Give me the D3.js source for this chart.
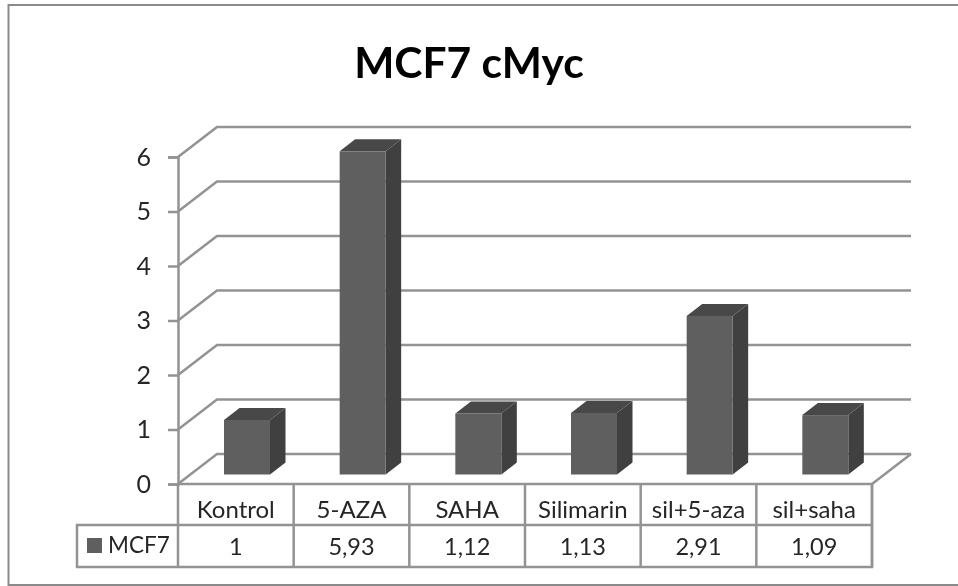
<!DOCTYPE html>
<html>
<head>
<meta charset="utf-8">
<script src="https://cdn.jsdelivr.net/npm/d3@7"></script>
<style>
  html, body { margin: 0; padding: 0; background: #fff; }
  svg { filter: blur(0.45px); }
  text { font-family: Lato, "Open Sans", sans-serif; fill: #262626; }
</style>
</head>
<body>
<div id="chart"></div>
<script>
/* DATA */
const categories = ["Kontrol", "5-AZA", "SAHA", "Silimarin", "sil+5-aza", "sil+saha"];
const values = [1, 5.93, 1.12, 1.13, 2.91, 1.09];
const valueLabels = ["1", "5,93", "1,12", "1,13", "2,91", "1,09"];
const yTicks = [0, 1, 2, 3, 4, 5, 6];
const seriesName = "MCF7";
const chartTitle = "MCF7 cMyc";

/* LAYOUT */
const width = 958, height = 586;
const plot = { left: 178, right: 872, top: 157, bottom: 484 };
const wall = { dx: 39, dy: -30 };      // back wall offset
const depth = { dx: 15.5, dy: -12 };   // bar depth
const table = { left: 77, row1: 525, row2: 567 };
const lineColor = "#939393";
const lineWidth = 2.5;

const svg = d3.select("#chart").append("svg")
  .attr("width", width)
  .attr("height", height)
  .style("display", "block");

// scales
const xScale = d3.scaleBand()
  .domain(categories)
  .range([plot.left, plot.right]);

const yScale = d3.scaleLinear()
  .domain([0, 6])
  .range([plot.bottom, plot.top]);

// outer frame, the picture is cut off before its right side
svg.append("path")
  .attr("d", `M${width},5H8.5V585H${width}`)
  .attr("fill", "none")
  .attr("stroke", "#8a8a8a")
  .attr("stroke-width", 2);

svg.append("text")
  .attr("x", 469)
  .attr("y", 78)
  .attr("text-anchor", "middle")
  .attr("font-size", 42.5)
  .attr("font-weight", 700)
  .style("fill", "#000")
  .text(chartTitle);

// gridlines, side wall and floor
const grid = svg.append("g")
  .attr("fill", "none")
  .attr("stroke", lineColor)
  .attr("stroke-width", lineWidth);

grid.selectAll("path.grid")
  .data(yTicks)
  .join("path")
  .attr("class", "grid")
  .attr("d", d => {
    const y = yScale(d);
    return `M${plot.left},${y}L${plot.left + wall.dx},${y + wall.dy}H${plot.right + wall.dx}`;
  });

// floor right edge
grid.append("path")
  .attr("d", `M${plot.right},${plot.bottom}L${plot.right + wall.dx},${plot.bottom + wall.dy}`);

// y axis
const yAxis = d3.axisLeft(yScale)
  .tickValues(yTicks)
  .tickFormat(d3.format("d"))
  .tickSize(10)
  .tickPadding(17);
const yAxisGroup = svg.append("g")
  .attr("transform", `translate(${plot.left},0)`)
  .call(yAxis);
yAxisGroup.select(".domain").attr("stroke", lineColor).attr("stroke-width", lineWidth);
yAxisGroup.selectAll("line").attr("stroke", lineColor).attr("stroke-width", lineWidth);
yAxisGroup.selectAll("text")
  .attr("font-size", 25)
  .style("font-family", 'Lato, "Open Sans", sans-serif');

// bars: each is a front face, a top face and a side face
const barWidth = 46;
const barOffset = 46;  // from the left edge of the band
const floorLift = 9.5;

const bars = svg.append("g").selectAll("g")
  .data(values)
  .join("g")
  .attr("transform", (d, i) => `translate(${xScale(categories[i]) + barOffset},0)`);

bars.append("path")
  .attr("fill", "#404040")
  .attr("d", d => {
    const t = yScale(d) - floorLift, b = plot.bottom - floorLift;
    return `M${barWidth},${t}l${depth.dx},${depth.dy}V${b + depth.dy}l${-depth.dx},${-depth.dy}Z`;
  });

bars.append("path")
  .attr("fill", "#484848")
  .attr("d", d => {
    const t = yScale(d) - floorLift;
    return `M0,${t}l${depth.dx},${depth.dy}h${barWidth}l${-depth.dx},${-depth.dy}Z`;
  });

bars.append("rect")
  .attr("width", barWidth)
  .attr("y", d => yScale(d) - floorLift)
  .attr("height", d => plot.bottom - yScale(d))
  .attr("fill", "#5f5f5f");

// data table
const tbl = svg.append("g")
  .attr("fill", "none")
  .attr("stroke", lineColor)
  .attr("stroke-width", lineWidth);

tbl.append("path")
  .attr("d", `M${plot.left},${plot.bottom}H${plot.right}V${table.row2}H${table.left}V${table.row1}H${plot.right}`);

tbl.selectAll("line.col")
  .data([plot.left].concat(categories.map(c => xScale(c) + xScale.bandwidth())))
  .join("line")
  .attr("class", "col")
  .attr("x1", d => d).attr("x2", d => d)
  .attr("y1", plot.bottom).attr("y2", table.row2);

svg.append("g").selectAll("text")
  .data(categories)
  .join("text")
  .attr("x", d => xScale(d) + xScale.bandwidth() / 2)
  .attr("y", 518)
  .attr("text-anchor", "middle")
  .attr("font-size", 24)
  .text(d => d);

svg.append("g").selectAll("text")
  .data(valueLabels)
  .join("text")
  .attr("x", (d, i) => xScale(categories[i]) + xScale.bandwidth() / 2)
  .attr("y", 555)
  .attr("text-anchor", "middle")
  .attr("font-size", 23.5)
  .text(d => d);

// legend key
svg.append("rect")
  .attr("x", 87).attr("y", 538)
  .attr("width", 15).attr("height", 15)
  .attr("fill", "#5f5f5f");

svg.append("text")
  .attr("x", 108)
  .attr("y", 553)
  .attr("font-size", 22.5)
  .text(seriesName);
</script>
</body>
</html>
